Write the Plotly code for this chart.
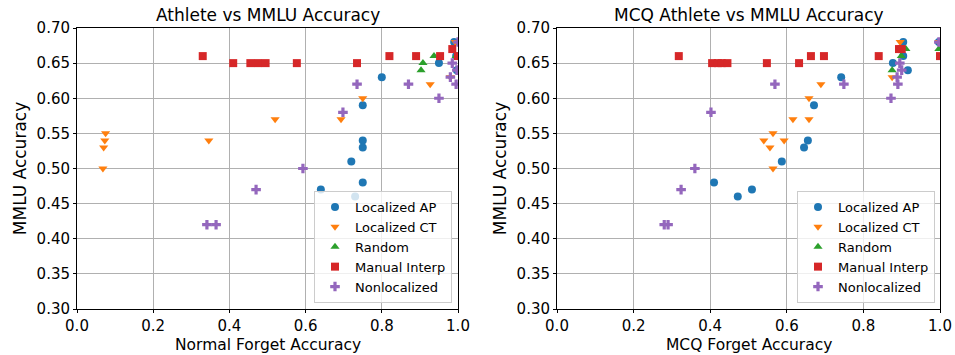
import plotly.graph_objects as go

# ---------------- data: left panel (Normal Forget Accuracy) ----------------
ap_l_x = [0.80, 0.75, 0.75, 0.75, 0.72, 0.75, 0.64, 0.73, 0.95, 0.99, 0.995, 0.997]
ap_l_y = [0.63, 0.59, 0.54, 0.53, 0.51, 0.48, 0.47, 0.46, 0.65, 0.68, 0.66, 0.64]
ct_l_x = [0.075, 0.073, 0.07, 0.068, 0.346, 0.52, 0.75, 0.693, 0.927, 0.98, 0.993]
ct_l_y = [0.55, 0.54, 0.53, 0.50, 0.54, 0.57, 0.60, 0.57, 0.62, 0.63, 0.68]
rd_l_x = [0.937, 0.908, 0.903, 0.995]
rd_l_y = [0.66, 0.65, 0.64, 0.66]
mi_l_x = [0.33, 0.41, 0.455, 0.475, 0.495, 0.577, 0.735, 0.82, 0.89, 0.953, 0.985, 1.0]
mi_l_y = [0.66, 0.65, 0.65, 0.65, 0.65, 0.65, 0.65, 0.66, 0.66, 0.66, 0.67, 0.66]
nl_l_x = [0.735, 0.87, 0.95, 0.698, 0.593, 0.47, 0.341, 0.365, 0.985, 0.98, 0.995, 0.997, 1.0]
nl_l_y = [0.62, 0.62, 0.60, 0.58, 0.50, 0.47, 0.42, 0.42, 0.65, 0.63, 0.62, 0.64, 0.68]

# ---------------- data: right panel (MCQ Forget Accuracy) ----------------
ap_r_x = [0.742, 0.671, 0.655, 0.645, 0.587, 0.41, 0.472, 0.509, 0.877, 0.916, 0.904, 0.904, 0.997]
ap_r_y = [0.63, 0.59, 0.54, 0.53, 0.51, 0.48, 0.46, 0.47, 0.65, 0.64, 0.66, 0.68, 0.68]
ct_r_x = [0.689, 0.658, 0.616, 0.658, 0.564, 0.54, 0.593, 0.556, 0.564, 0.875, 0.896, 0.997]
ct_r_y = [0.62, 0.60, 0.57, 0.57, 0.55, 0.54, 0.54, 0.53, 0.50, 0.63, 0.68, 0.68]
rd_r_x = [0.875, 0.899, 0.911, 0.997]
rd_r_y = [0.64, 0.66, 0.67, 0.67]
mi_r_x = [0.318, 0.405, 0.42, 0.43, 0.445, 0.548, 0.632, 0.663, 0.697, 0.84, 0.893, 0.9, 1.0]
mi_r_y = [0.66, 0.65, 0.65, 0.65, 0.65, 0.65, 0.65, 0.66, 0.66, 0.66, 0.67, 0.67, 0.66]
nl_r_x = [0.569, 0.749, 0.402, 0.36, 0.324, 0.28, 0.29, 0.872, 0.895, 0.9, 0.888, 0.89, 0.997]
nl_r_y = [0.62, 0.62, 0.58, 0.50, 0.47, 0.42, 0.42, 0.60, 0.65, 0.64, 0.63, 0.62, 0.68]

series_names = ["Localized AP", "Localized CT", "Random", "Manual Interp", "Nonlocalized"]
colors = ["#1f77b4", "#ff7f0e", "#2ca02c", "#d62728", "#9467bd"]
symbols = ["circle", "triangle-down", "triangle-up", "square", "cross"]

x_ticks = [0.0, 0.2, 0.4, 0.6, 0.8, 1.0]
y_ticks = [0.30, 0.35, 0.40, 0.45, 0.50, 0.55, 0.60, 0.65, 0.70]

left = [(ap_l_x, ap_l_y), (ct_l_x, ct_l_y), (rd_l_x, rd_l_y), (mi_l_x, mi_l_y), (nl_l_x, nl_l_y)]
right = [(ap_r_x, ap_r_y), (ct_r_x, ct_r_y), (rd_r_x, rd_r_y), (mi_r_x, mi_r_y), (nl_r_x, nl_r_y)]

FONT = "DejaVu Sans"
fig = go.Figure()

for i, (xs, ys) in enumerate(left):
    fig.add_trace(go.Scatter(x=xs, y=ys, mode="markers", name=series_names[i],
                             marker=dict(color=colors[i], symbol=symbols[i], size=8,
                                         line=dict(width=0)),
                             xaxis="x", yaxis="y", legend="legend"))
for i, (xs, ys) in enumerate(right):
    fig.add_trace(go.Scatter(x=xs, y=ys, mode="markers", name=series_names[i],
                             marker=dict(color=colors[i], symbol=symbols[i], size=8,
                                         line=dict(width=0)),
                             xaxis="x2", yaxis="y2", legend="legend2"))

W, H = 955, 355
L1, R1 = 77, 458
L2, R2 = 557, 940
T, B = 28, 309

axis_common = dict(showgrid=True, gridcolor="#b0b0b0", gridwidth=1,
                   showline=True, linecolor="black", linewidth=1, mirror=True,
                   ticks="outside", ticklen=3, tickcolor="black",
                   tickfont=dict(family=FONT, size=15, color="black"),
                   zeroline=False, layer="below traces", automargin=False)

xa = dict(axis_common, range=[0, 1], tickvals=x_ticks, tickformat=".1f")
ya = dict(axis_common, range=[0.30, 0.70], tickvals=y_ticks, tickformat=".2f")

legend_common = dict(font=dict(family=FONT, size=13, color="black"),
                     bgcolor="rgba(255,255,255,0.8)", bordercolor="#cccccc",
                     borderwidth=1, xanchor="right", yanchor="bottom",
                     itemwidth=30, tracegroupgap=0)

TFS = 17
ann_font = dict(family=FONT, size=TFS, color="black")
xt_font = dict(family=FONT, size=15.5, color="black")
fig.update_layout(
    width=W, height=H,
    margin=dict(l=0, r=0, t=0, b=0),
    paper_bgcolor="white", plot_bgcolor="white",
    font=dict(family=FONT, color="black"),
    xaxis=dict(xa, domain=[L1 / W, R1 / W], anchor="y"),
    yaxis=dict(ya, domain=[1 - B / H, 1 - T / H], anchor="x",
               title=dict(text="MMLU Accuracy", font=ann_font, standoff=5)),
    xaxis2=dict(xa, domain=[L2 / W, R2 / W], anchor="y2"),
    yaxis2=dict(ya, domain=[1 - B / H, 1 - T / H], anchor="x2",
                title=dict(text="MMLU Accuracy", font=ann_font, standoff=5)),
    legend=dict(legend_common, x=(R1 - 6) / W, y=1 - (B - 6) / H),
    legend2=dict(legend_common, x=(R2 - 5) / W, y=1 - (B - 6) / H),
    annotations=[
        dict(text="Athlete vs MMLU Accuracy", x=(L1 + R1) / 2 / W, y=1 - 15 / H,
             xref="paper", yref="paper", showarrow=False, xanchor="center", yanchor="middle",
             font=ann_font),
        dict(text="MCQ Athlete vs MMLU Accuracy", x=(L2 + R2) / 2 / W, y=1 - 15 / H,
             xref="paper", yref="paper", showarrow=False, xanchor="center", yanchor="middle",
             font=ann_font),
        dict(text="Normal Forget Accuracy", x=(L1 + R1) / 2 / W, y=0,
             xref="paper", yref="paper", showarrow=False, xanchor="center", yanchor="bottom",
             borderpad=0, font=xt_font),
        dict(text="MCQ Forget Accuracy", x=(L2 + R2) / 2 / W, y=0,
             xref="paper", yref="paper", showarrow=False, xanchor="center", yanchor="bottom",
             borderpad=0, font=xt_font),
    ],
)

fig.write_html("out.html")
